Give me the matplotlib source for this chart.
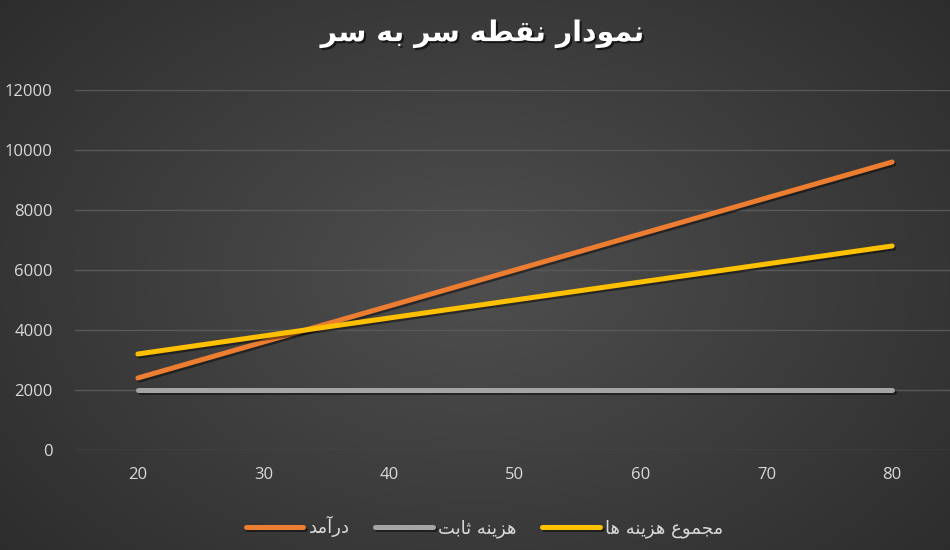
import matplotlib
matplotlib.use("Agg")
import matplotlib.pyplot as plt
import matplotlib.patheffects as pe
import numpy as np

# chart data
units = [20, 30, 40, 50, 60, 70, 80]
revenue = [2400, 3600, 4800, 6000, 7200, 8400, 9600]
fixed_cost = [2000, 2000, 2000, 2000, 2000, 2000, 2000]
total_cost = [3200, 3800, 4400, 5000, 5600, 6200, 6800]

title = "نمودار نقطه سر به سر"
series_names = ["درآمد", "هزینه ثابت", "مجموع هزینه ها"]
series_colors = ["#ED7D31", "#A5A5A5", "#FFC000"]
y_ticks = [0, 2000, 4000, 6000, 8000, 10000, 12000]
x_ticks = [20, 30, 40, 50, 60, 70, 80]

# Arabic-script presentation forms: (isolated, final, initial, medial)
FORMS = {
    "ا": ("\uFE8D", "\uFE8E"), "آ": ("\uFE81", "\uFE82"),
    "د": ("\uFEA9", "\uFEAA"), "ر": ("\uFEAD", "\uFEAE"),
    "ز": ("\uFEAF", "\uFEB0"), "و": ("\uFEED", "\uFEEE"),
    "ب": ("\uFE8F", "\uFE90", "\uFE91", "\uFE92"),
    "ت": ("\uFE95", "\uFE96", "\uFE97", "\uFE98"),
    "ث": ("\uFE99", "\uFE9A", "\uFE9B", "\uFE9C"),
    "ج": ("\uFE9D", "\uFE9E", "\uFE9F", "\uFEA0"),
    "س": ("\uFEB1", "\uFEB2", "\uFEB3", "\uFEB4"),
    "ط": ("\uFEC1", "\uFEC2", "\uFEC3", "\uFEC4"),
    "ع": ("\uFEC9", "\uFECA", "\uFECB", "\uFECC"),
    "ق": ("\uFED5", "\uFED6", "\uFED7", "\uFED8"),
    "م": ("\uFEE1", "\uFEE2", "\uFEE3", "\uFEE4"),
    "ن": ("\uFEE5", "\uFEE6", "\uFEE7", "\uFEE8"),
    "ه": ("\uFEE9", "\uFEEA", "\uFEEB", "\uFEEC"),
    "ی": ("\uFBFC", "\uFBFD", "\uFEF3", "\uFEF4"),
}


def shape_fa(text):
    """Join letters into presentation forms and lay out right to left."""
    out = []
    for i, ch in enumerate(text):
        forms = FORMS.get(ch)
        if forms is None:
            out.append(ch)
            continue
        prev = text[i - 1] if i > 0 else ""
        nxt = text[i + 1] if i + 1 < len(text) else ""
        joins_prev = prev in FORMS and len(FORMS[prev]) == 4
        joins_next = len(forms) == 4 and nxt in FORMS
        if joins_prev and joins_next:
            out.append(forms[3])
        elif joins_prev:
            out.append(forms[1])
        elif joins_next:
            out.append(forms[2])
        else:
            out.append(forms[0])
    return "".join(reversed(out))


fig = plt.figure(figsize=(9.5, 5.5), dpi=100)

# radial gradient background
bg = fig.add_axes([0, 0, 1, 1], zorder=-10)
yy, xx = np.mgrid[-1:1:300j, -1:1:500j]
r = np.sqrt((xx * 0.95) ** 2 + (yy * 0.8) ** 2)
shade = 0.31 - 0.14 * np.clip(r, 0, 1.3) / 1.3
bg.imshow(np.dstack([shade, shade, shade]), aspect="auto", extent=[0, 1, 0, 1])
bg.set_axis_off()

ax = fig.add_axes([75 / 950, 1 - 450 / 550, 880 / 950, 360 / 550])
ax.patch.set_alpha(0)

shadow = [pe.SimpleLineShadow(offset=(1.2, -1.5), shadow_color="black", alpha=0.45),
          pe.Normal()]
for vals, name, color in zip([revenue, fixed_cost, total_cost], series_names, series_colors):
    ax.plot(units, vals, color=color, lw=3.6, solid_capstyle="round",
            label=shape_fa(name), path_effects=shadow, zorder=3)

ax.set_xlim(15, 85)
ax.set_ylim(0, 12000)
ax.set_yticks(y_ticks)
ax.set_xticks(x_ticks)
ax.grid(axis="y", color="#595959", lw=1)
ax.set_axisbelow(True)
for s in ax.spines.values():
    s.set_visible(False)
ax.tick_params(length=0, colors="#d9d9d9", labelsize=12)
ax.tick_params(axis="y", pad=16)
ax.tick_params(axis="x", pad=12)
for lab in ax.get_xticklabels() + ax.get_yticklabels():
    lab.set_color("#d9d9d9")
    lab.set_family("Open Sans")

fig.text(0.508, 0.938, shape_fa(title), ha="center", va="center", color="white",
         fontsize=20.5, fontweight="bold",
         path_effects=[pe.withSimplePatchShadow(offset=(1.5, -1.5), shadow_rgbFace="black", alpha=0.6)])

leg = fig.legend(loc="center", bbox_to_anchor=(0.51, 0.042), ncol=3, frameon=False,
                 fontsize=13, handlelength=3.2, handletextpad=0.3, columnspacing=1.4)
for t in leg.get_texts():
    t.set_color("#d9d9d9")

fig.savefig("out.png", dpi=100)
